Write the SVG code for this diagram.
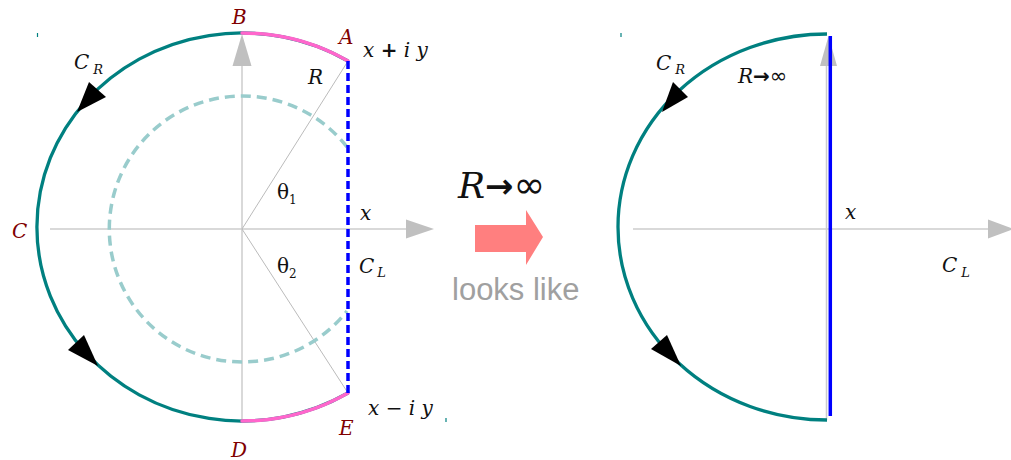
<svg xmlns="http://www.w3.org/2000/svg" width="1011" height="460" viewBox="0 0 1011 460">
<style>
.ax{stroke:#cccccc;stroke-width:1.5;fill:none}
.axh{fill:#c0c0c0;stroke:none}
.rad{stroke:#bbbbbb;stroke-width:1;fill:none}
.arc{stroke:#008080;stroke-width:3.3;fill:none}
.pink{stroke:#ff66cc;stroke-width:3.5;fill:none;stroke-linecap:round}
.ah{fill:#000000;stroke:none}
.m{font-family:"DejaVu Serif","Liberation Serif",serif;font-style:italic;font-size:20px;fill:#111111}
.red{fill:#800000}
.sub{font-size:13px}
.th{font-family:"DejaVu Serif","Liberation Serif",serif;font-size:20px;fill:#111111}
.tick{stroke:#008080;stroke-width:1.2}
</style>
<rect width="1011" height="460" fill="#ffffff"/>

<g id="left-axes">
<line class="ax" x1="50" y1="229" x2="407" y2="229"/>
<polygon class="axh" points="406,219.5 406,238.5 434,229"/>
<line class="ax" x1="242" y1="421" x2="242" y2="65"/>
<polygon class="axh" points="232.5,66 251.5,66 242,34"/>
<line class="rad" x1="242" y1="229" x2="348" y2="61"/>
<line class="rad" x1="242" y1="229" x2="348" y2="393"/>
</g>

<g id="left-contour">
<path d="M 347 147 A 133 133 0 1 0 347 311" fill="none" stroke="#99cccc" stroke-width="3.5" stroke-dasharray="10,6"/>
<path class="arc" d="M 348 61 A 205 194 0 1 0 348 393"/>
<path class="pink" d="M 242 33 A 205 194 0 0 1 348 61"/>
<path class="pink" d="M 242 421 A 205 194 0 0 0 348 393"/>
<line x1="348" y1="61" x2="348" y2="393" stroke="#0000ff" stroke-width="3.5" stroke-dasharray="8,4"/>
<polygon class="ah" points="89,82 106,97 77,112"/>
<polygon class="ah" points="68,350 84,335 98,366"/>
<line class="tick" x1="37.5" y1="33" x2="37.5" y2="37"/>
<line class="tick" x1="446" y1="418" x2="446" y2="422"/>
</g>

<g id="left-labels">
<text class="m red" x="232" y="24">B</text>
<text class="m red" x="339" y="44">A</text>
<text class="m" x="363" y="57">x <tspan font-style="normal" font-weight="bold">+</tspan> i y</text>
<text class="m" x="308" y="84">R</text>
<text class="th" x="277" y="199">θ<tspan font-size="12" dy="5">1</tspan></text>
<text class="th" x="277" y="273">θ<tspan font-size="12" dy="5">2</tspan></text>
<text class="m" x="360" y="220">x</text>
<text class="m" x="359" y="273">C<tspan class="sub" dx="3" dy="4">L</tspan></text>
<text class="m red" x="12" y="238">C</text>
<text class="m red" x="231" y="457">D</text>
<text class="m red" x="339" y="435">E</text>
<text class="m" x="368" y="415">x <tspan font-style="normal">−</tspan> i y</text>
<text class="m" x="74" y="69">C<tspan class="sub" dx="4" dy="5">R</tspan></text>
</g>

<g id="middle">
<text x="458" y="198" font-family="DejaVu Serif, serif" font-size="36" fill="#111111"><tspan font-style="italic">R</tspan><tspan font-family="DejaVu Sans, sans-serif" font-weight="bold" font-size="34">→</tspan><tspan font-family="DejaVu Sans, sans-serif" font-size="38">∞</tspan></text>
<polygon points="475,225 526,225 526,210 543,237 526,265 526,252 475,252" fill="#ff7f7f"/>
<text x="452" y="300" font-family="Liberation Sans, Arial, sans-serif" font-size="31" fill="#a0a0a0">looks like</text>
</g>

<g id="right-axes">
<line class="ax" x1="633" y1="229" x2="989" y2="229"/>
<polygon class="axh" points="988,219.5 988,238.5 1014,229"/>
<line class="ax" x1="826.5" y1="420" x2="826.5" y2="65"/>
<polygon class="axh" points="820,66 837,66 828.5,36"/>
</g>

<g id="right-contour">
<path class="arc" d="M 827 34 A 209 193 0 0 0 827 420"/>
<line x1="830.3" y1="36" x2="830.3" y2="416" stroke="#0000ff" stroke-width="3.5"/>
<polygon class="ah" points="673,82 688,97 662,112"/>
<polygon class="ah" points="651,349 667,335 681,366"/>
<line class="tick" x1="621" y1="33" x2="621" y2="37"/>
</g>

<g id="right-labels">
<text class="m" x="656" y="70">C<tspan class="sub" dx="4" dy="4">R</tspan></text>
<text class="m" x="738" y="83">R<tspan font-style="normal" font-family="DejaVu Sans, sans-serif" font-weight="bold" font-size="20">→</tspan><tspan font-style="normal" font-family="DejaVu Sans, sans-serif" font-size="21">∞</tspan></text>
<text class="m" x="845" y="219">x</text>
<text class="m" x="942" y="272">C<tspan class="sub" dx="4" dy="5">L</tspan></text>
</g>
</svg>
